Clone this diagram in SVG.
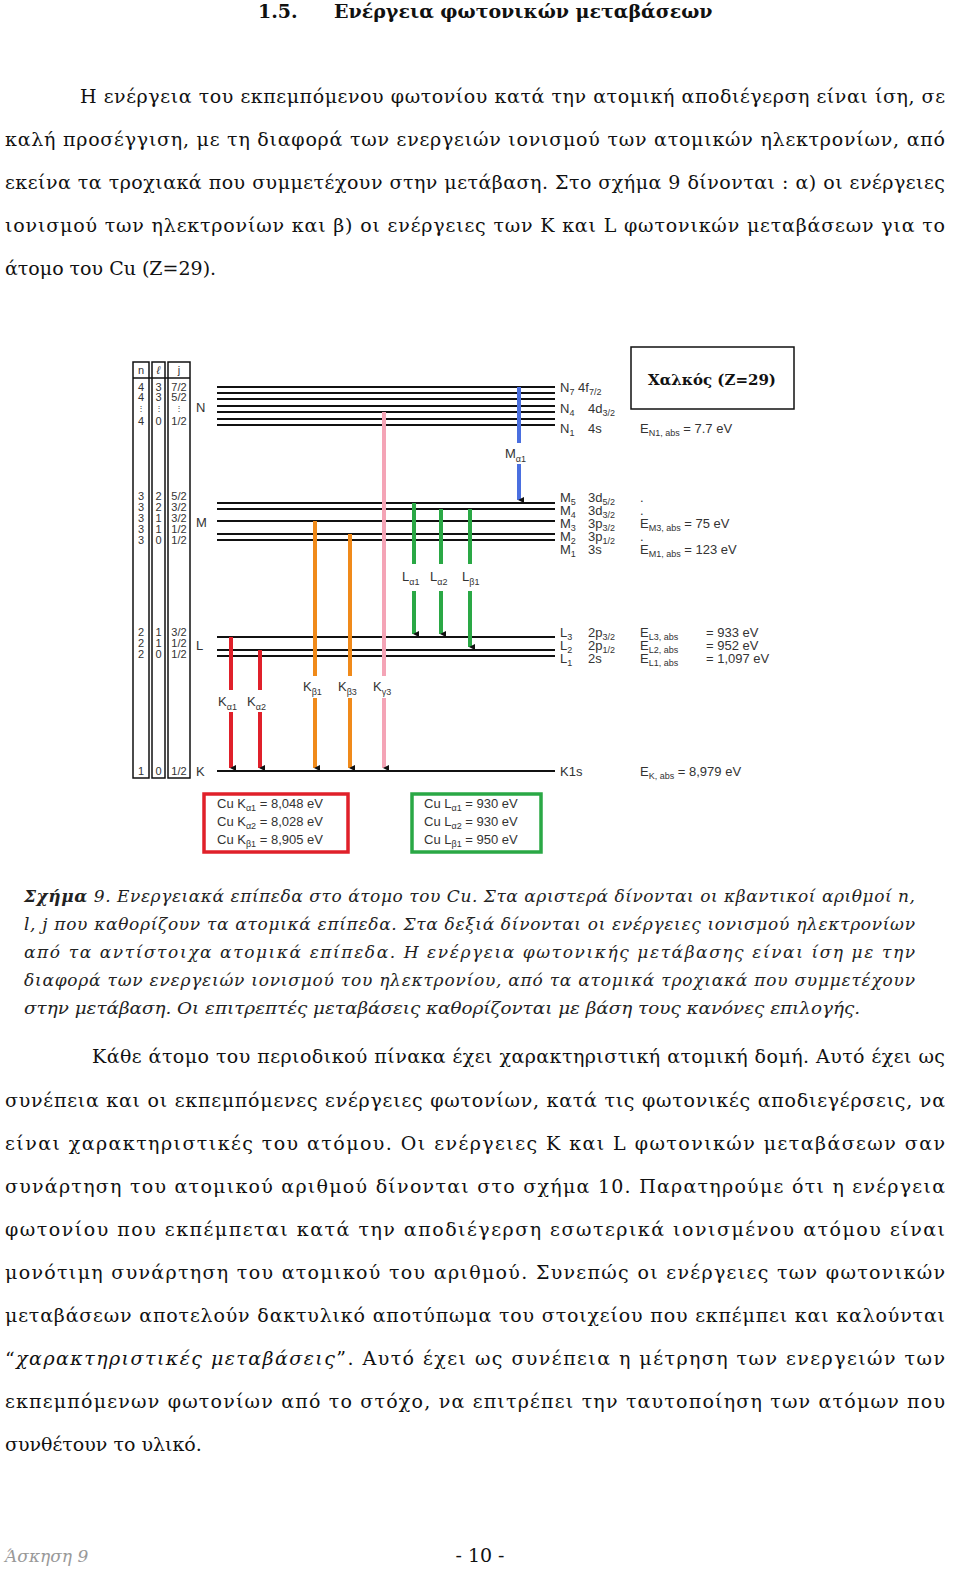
<svg xmlns="http://www.w3.org/2000/svg" width="960" height="1585" viewBox="0 0 960 1585">
<defs>
<marker id="ah" markerWidth="6" markerHeight="6" refX="3" refY="5" orient="auto" markerUnits="userSpaceOnUse" viewBox="0 0 6 6"><path d="M0,0 L6,0 L3,6 z" fill="#111"/></marker>
<style>
.body{font-family:"DejaVu Serif","Liberation Serif",serif;font-size:19px;fill:#111}
.cap{font-family:"DejaVu Serif","Liberation Serif",serif;font-style:italic;font-size:17px;fill:#222}
.lab{font-family:"Liberation Sans",Arial,sans-serif;font-size:13px;fill:#333}
.tab{font-family:"Liberation Sans",Arial,sans-serif;font-size:11px;fill:#333}
.lv{stroke:#111;stroke-width:2}
.ar{stroke-width:4;fill:none}
.sub{font-size:9px}
</style>
</defs>
<rect width="960" height="1585" fill="#fff"/>
<text x="258" y="18" class="body" font-weight="bold">1.5.<tspan x="334">Ενέργεια φωτονικών μεταβάσεων</tspan></text>
<text x="80" y="103" class="body" textLength="865" lengthAdjust="spacing">Η ενέργεια του εκπεμπόμενου φωτονίου κατά την ατομική αποδιέγερση είναι ίση, σε</text>
<text x="5" y="146" class="body" textLength="940" lengthAdjust="spacing">καλή προσέγγιση, με τη διαφορά των ενεργειών ιονισμού των ατομικών ηλεκτρονίων, από</text>
<text x="5" y="189" class="body" textLength="940" lengthAdjust="spacing">εκείνα τα τροχιακά που συμμετέχουν στην μετάβαση. Στο σχήμα 9 δίνονται : α) οι ενέργειες</text>
<text x="5" y="232" class="body" textLength="940" lengthAdjust="spacing">ιονισμού των ηλεκτρονίων και β) οι ενέργειες των K και L φωτονικών μεταβάσεων για το</text>
<text x="5" y="275" class="body">άτομο του Cu (Z=29).</text>

<g id="table" fill="none" stroke="#111" stroke-width="1.5">
<rect x="133" y="362" width="16" height="416"/>
<rect x="152" y="362" width="13" height="416"/>
<rect x="168" y="362" width="22" height="416"/>
<line x1="133" y1="378" x2="190" y2="378"/>
</g>
<g id="table-text" class="tab" text-anchor="middle">
<text x="141" y="374">n</text><text x="158.5" y="374" font-style="italic">ℓ</text><text x="179" y="374">j</text>
<text x="141" y="391">4</text><text x="158.5" y="391">3</text><text x="179" y="391">7/2</text>
<text x="141" y="401">4</text><text x="158.5" y="401">3</text><text x="179" y="401">5/2</text>
<text x="141" y="411" font-size="8">⋮</text><text x="158.5" y="411" font-size="8">⋮</text><text x="179" y="411" font-size="8">⋮</text>
<text x="141" y="425">4</text><text x="158.5" y="425">0</text><text x="179" y="425">1/2</text>
<text x="141" y="500">3</text><text x="158.5" y="500">2</text><text x="179" y="500">5/2</text>
<text x="141" y="511">3</text><text x="158.5" y="511">2</text><text x="179" y="511">3/2</text>
<text x="141" y="522">3</text><text x="158.5" y="522">1</text><text x="179" y="522">3/2</text>
<text x="141" y="533">3</text><text x="158.5" y="533">1</text><text x="179" y="533">1/2</text>
<text x="141" y="544">3</text><text x="158.5" y="544">0</text><text x="179" y="544">1/2</text>
<text x="141" y="636">2</text><text x="158.5" y="636">1</text><text x="179" y="636">3/2</text>
<text x="141" y="647">2</text><text x="158.5" y="647">1</text><text x="179" y="647">1/2</text>
<text x="141" y="658">2</text><text x="158.5" y="658">0</text><text x="179" y="658">1/2</text>
<text x="141" y="775">1</text><text x="158.5" y="775">0</text><text x="179" y="775">1/2</text>
</g>
<g id="shell-labels" class="lab">
<text x="196" y="412">N</text><text x="196" y="527">M</text><text x="196" y="650">L</text><text x="196" y="776">K</text>
</g>
<g id="levels" class="lv">
<line x1="217" y1="387" x2="555" y2="387"/><line x1="217" y1="393" x2="555" y2="393"/><line x1="217" y1="399" x2="555" y2="399"/><line x1="217" y1="406" x2="555" y2="406"/><line x1="217" y1="412" x2="555" y2="412"/><line x1="217" y1="419" x2="555" y2="419"/><line x1="217" y1="425" x2="555" y2="425"/>
<line x1="217" y1="503" x2="555" y2="503"/><line x1="217" y1="509" x2="555" y2="509"/><line x1="217" y1="521" x2="555" y2="521"/><line x1="217" y1="534" x2="555" y2="534"/><line x1="217" y1="540" x2="555" y2="540"/>
<line x1="217" y1="637" x2="555" y2="637"/><line x1="217" y1="650" x2="555" y2="650"/><line x1="217" y1="656" x2="555" y2="656"/>
<line x1="217" y1="771" x2="555" y2="771"/>
</g>
<g id="connectors">
<g stroke="#e0202a" class="ar"><line x1="231" y1="637" x2="231" y2="690"/><line x1="231" y1="712" x2="231" y2="768" marker-end="url(#ah)"/><line x1="260" y1="650" x2="260" y2="690"/><line x1="260" y1="712" x2="260" y2="768" marker-end="url(#ah)"/></g>
<g stroke="#f08a1a" class="ar"><line x1="315" y1="521" x2="315" y2="676"/><line x1="315" y1="698" x2="315" y2="768" marker-end="url(#ah)"/><line x1="350" y1="534" x2="350" y2="676"/><line x1="350" y1="698" x2="350" y2="768" marker-end="url(#ah)"/></g>
<g stroke="#f4a4b6" class="ar"><line x1="384" y1="412" x2="384" y2="676"/><line x1="384" y1="698" x2="384" y2="768" marker-end="url(#ah)"/></g>
<g stroke="#2aa845" class="ar"><line x1="414" y1="503" x2="414" y2="564"/><line x1="414" y1="591" x2="414" y2="634" marker-end="url(#ah)"/><line x1="441" y1="509" x2="441" y2="564"/><line x1="441" y1="591" x2="441" y2="634" marker-end="url(#ah)"/><line x1="470" y1="509" x2="470" y2="564"/><line x1="470" y1="591" x2="470" y2="647" marker-end="url(#ah)"/></g>
<g stroke="#4a6fe0" class="ar"><line x1="519" y1="387" x2="519" y2="443"/><line x1="519" y1="464" x2="519" y2="500" marker-end="url(#ah)"/></g>
</g>
<g id="transition-labels" class="lab">
<text x="218" y="706">K<tspan class="sub" dy="4">α1</tspan></text>
<text x="247" y="706">K<tspan class="sub" dy="4">α2</tspan></text>
<text x="303" y="691">K<tspan class="sub" dy="4">β1</tspan></text>
<text x="338" y="691">K<tspan class="sub" dy="4">β3</tspan></text>
<text x="373" y="691">K<tspan class="sub" dy="4">γ3</tspan></text>
<text x="402" y="581">L<tspan class="sub" dy="4">α1</tspan></text>
<text x="430" y="581">L<tspan class="sub" dy="4">α2</tspan></text>
<text x="462" y="581">L<tspan class="sub" dy="4">β1</tspan></text>
<text x="505" y="458">M<tspan class="sub" dy="4">α1</tspan></text>
</g>
<g id="orbital-labels" class="lab">
<text x="560" y="392">N<tspan class="sub" dy="3">7</tspan><tspan dy="-3"> 4f</tspan><tspan class="sub" dy="3">7/2</tspan></text>
<text x="560" y="413">N<tspan class="sub" dy="3">4</tspan><tspan dy="-3" x="588">4d</tspan><tspan class="sub" dy="3">3/2</tspan></text>
<text x="560" y="433">N<tspan class="sub" dy="3">1</tspan><tspan dy="-3" x="588">4s</tspan></text>
<text x="560" y="502">M<tspan class="sub" dy="3">5</tspan><tspan dy="-3" x="588">3d</tspan><tspan class="sub" dy="3">5/2</tspan></text>
<text x="560" y="515">M<tspan class="sub" dy="3">4</tspan><tspan dy="-3" x="588">3d</tspan><tspan class="sub" dy="3">3/2</tspan></text>
<text x="560" y="528">M<tspan class="sub" dy="3">3</tspan><tspan dy="-3" x="588">3p</tspan><tspan class="sub" dy="3">3/2</tspan></text>
<text x="560" y="541">M<tspan class="sub" dy="3">2</tspan><tspan dy="-3" x="588">3p</tspan><tspan class="sub" dy="3">1/2</tspan></text>
<text x="560" y="554">M<tspan class="sub" dy="3">1</tspan><tspan dy="-3" x="588">3s</tspan></text>
<text x="560" y="637">L<tspan class="sub" dy="3">3</tspan><tspan dy="-3" x="588">2p</tspan><tspan class="sub" dy="3">3/2</tspan></text>
<text x="560" y="650">L<tspan class="sub" dy="3">2</tspan><tspan dy="-3" x="588">2p</tspan><tspan class="sub" dy="3">1/2</tspan></text>
<text x="560" y="663">L<tspan class="sub" dy="3">1</tspan><tspan dy="-3" x="588">2s</tspan></text>
<text x="560" y="776">K1s</text>
</g>
<g id="energies" class="lab">
<text x="640" y="433">E<tspan class="sub" dy="3">N1, abs</tspan><tspan dy="-3"> = 7.7 eV</tspan></text>
<text x="640" y="502">.</text><text x="640" y="515">.</text><text x="640" y="541">.</text>
<text x="640" y="528">E<tspan class="sub" dy="3">M3, abs</tspan><tspan dy="-3"> = 75 eV</tspan></text>
<text x="640" y="554">E<tspan class="sub" dy="3">M1, abs</tspan><tspan dy="-3"> = 123 eV</tspan></text>
<text x="640" y="637">E<tspan class="sub" dy="3">L3, abs</tspan><tspan dy="-3" x="706">= 933 eV</tspan></text>
<text x="640" y="650">E<tspan class="sub" dy="3">L2, abs</tspan><tspan dy="-3" x="706">= 952 eV</tspan></text>
<text x="640" y="663">E<tspan class="sub" dy="3">L1, abs</tspan><tspan dy="-3" x="706">= 1,097 eV</tspan></text>
<text x="640" y="776">E<tspan class="sub" dy="3">K, abs</tspan><tspan dy="-3"> = 8,979 eV</tspan></text>
</g>
<g id="title-box">
<rect x="631" y="347" width="163" height="62" fill="#fff" stroke="#111" stroke-width="1.5"/>
<text x="712" y="385" text-anchor="middle" font-family="'DejaVu Serif','Liberation Serif',serif" font-weight="bold" font-size="15" fill="#111">Χαλκός (Z=29)</text>
</g>
<g id="k-box">
<rect x="204" y="794" width="144" height="58" fill="none" stroke="#e0202a" stroke-width="3.5"/>
<g class="lab"><text x="217" y="808">Cu K<tspan class="sub" dy="3">α1</tspan><tspan dy="-3"> = 8,048 eV</tspan></text>
<text x="217" y="826">Cu K<tspan class="sub" dy="3">α2</tspan><tspan dy="-3"> = 8,028 eV</tspan></text>
<text x="217" y="844">Cu K<tspan class="sub" dy="3">β1</tspan><tspan dy="-3"> = 8,905 eV</tspan></text></g>
</g>
<g id="l-box">
<rect x="412" y="794" width="129" height="58" fill="none" stroke="#2aa845" stroke-width="3.5"/>
<g class="lab"><text x="424" y="808">Cu L<tspan class="sub" dy="3">α1</tspan><tspan dy="-3"> = 930 eV</tspan></text>
<text x="424" y="826">Cu L<tspan class="sub" dy="3">α2</tspan><tspan dy="-3"> = 930 eV</tspan></text>
<text x="424" y="844">Cu L<tspan class="sub" dy="3">β1</tspan><tspan dy="-3"> = 950 eV</tspan></text></g>
</g>

<text x="24" y="902" class="cap" textLength="891" lengthAdjust="spacing"><tspan font-weight="bold">Σχήμα</tspan> 9. Ενεργειακά επίπεδα στο άτομο του Cu. Στα αριστερά δίνονται οι κβαντικοί αριθμοί n,</text>
<text x="24" y="930" class="cap" textLength="891" lengthAdjust="spacing">l, j που καθορίζουν τα ατομικά επίπεδα. Στα δεξιά δίνονται οι ενέργειες ιονισμού ηλεκτρονίων</text>
<text x="24" y="958" class="cap" textLength="891" lengthAdjust="spacing">από τα αντίστοιχα ατομικά επίπεδα. Η ενέργεια φωτονικής μετάβασης είναι ίση με την</text>
<text x="24" y="986" class="cap" textLength="891" lengthAdjust="spacing">διαφορά των ενεργειών ιονισμού του ηλεκτρονίου, από τα ατομικά τροχιακά που συμμετέχουν</text>
<text x="24" y="1014" class="cap" textLength="836" lengthAdjust="spacingAndGlyphs">στην μετάβαση. Οι επιτρεπτές μεταβάσεις καθορίζονται με βάση τους κανόνες επιλογής.</text>

<text x="92" y="1063" class="body" textLength="853" lengthAdjust="spacing">Κάθε άτομο του περιοδικού πίνακα έχει χαρακτηριστική ατομική δομή. Αυτό έχει ως</text>
<text x="5" y="1107" class="body" textLength="940" lengthAdjust="spacing">συνέπεια και οι εκπεμπόμενες ενέργειες φωτονίων, κατά τις φωτονικές αποδιεγέρσεις, να</text>
<text x="5" y="1150" class="body" textLength="940" lengthAdjust="spacing">είναι χαρακτηριστικές του ατόμου. Οι ενέργειες K και L φωτονικών μεταβάσεων σαν</text>
<text x="5" y="1193" class="body" textLength="940" lengthAdjust="spacing">συνάρτηση του ατομικού αριθμού δίνονται στο σχήμα 10. Παρατηρούμε ότι η ενέργεια</text>
<text x="5" y="1236" class="body" textLength="940" lengthAdjust="spacing">φωτονίου που εκπέμπεται κατά την αποδιέγερση εσωτερικά ιονισμένου ατόμου είναι</text>
<text x="5" y="1279" class="body" textLength="940" lengthAdjust="spacing">μονότιμη συνάρτηση του ατομικού του αριθμού.  Συνεπώς οι ενέργειες των φωτονικών</text>
<text x="5" y="1322" class="body" textLength="940" lengthAdjust="spacing">μεταβάσεων αποτελούν δακτυλικό αποτύπωμα του στοιχείου που εκπέμπει και καλούνται</text>
<text x="5" y="1365" class="body" textLength="940" lengthAdjust="spacing">“<tspan font-style="italic">χαρακτηριστικές μεταβάσεις</tspan>”. Αυτό έχει ως συνέπεια η μέτρηση των ενεργειών των</text>
<text x="5" y="1408" class="body" textLength="940" lengthAdjust="spacing">εκπεμπόμενων φωτονίων από το στόχο, να επιτρέπει την ταυτοποίηση των ατόμων που</text>
<text x="5" y="1451" class="body">συνθέτουν το υλικό.</text>

<text x="5" y="1562" class="cap" style="fill:#999">Άσκηση  9</text>
<text x="480" y="1562" class="body" text-anchor="middle">- 10 -</text>
</svg>
